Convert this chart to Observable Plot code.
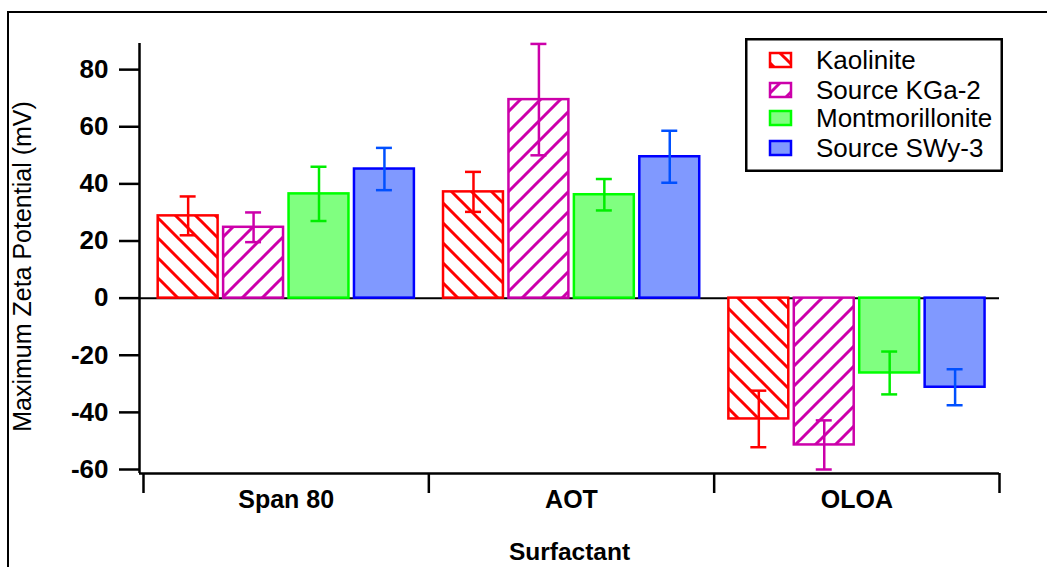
<!DOCTYPE html>
<html>
<head>
<meta charset="utf-8">
<script src="https://cdn.jsdelivr.net/npm/d3@7"></script>
<script src="https://cdn.jsdelivr.net/npm/@observablehq/plot@0.6"></script>
<style>
  body { margin: 0; background: #fff; }
  #chart { position: relative; width: 1047px; height: 567px; overflow: hidden;
           font-family: "Liberation Sans", Arial, Helvetica, sans-serif; }
  #border { position: absolute; left: 7px; top: 11px; right: -5px; bottom: -5px;
            border-top: 2.5px solid #000; border-left: 2.5px solid #000; pointer-events: none; }
  #legend { position: absolute; left: 745px; top: 38px; }
</style>
</head>
<body>
<div id="chart">
  <div id="border"></div>
</div>
<script>
// Surfactant groups and clay series
const surfactants = ["Span 80", "AOT", "OLOA"];
const seriesNames = ["Kaolinite", "Source KGa-2", "Montmorillonite", "Source SWy-3"];

// Maximum zeta potential (mV) and error, per surfactant
const kaolinite = [28.8, 37.2, -42.3];
const kaoliniteErr = [6.8, 7.0, 9.9];
const kga2 = [24.8, 69.5, -51.4];
const kga2Err = [5.2, 19.5, 8.6];
const montmorillonite = [36.5, 36.2, -26.2];
const montmorilloniteErr = [9.5, 5.5, 7.5];
const swy3 = [45.2, 49.5, -31.2];
const swy3Err = [7.4, 9.1, 6.3];

const yTicks = [-60, -40, -20, 0, 20, 40, 60, 80];

const values = [kaolinite, kga2, montmorillonite, swy3];
const errors = [kaoliniteErr, kga2Err, montmorilloniteErr, swy3Err];

// Fill / outline / error-bar colours for each series
const styles = [
  {fill: "url(#hatch-back)", stroke: "#ff0000", err: "#ff0000"},
  {fill: "url(#hatch-fwd)", stroke: "#cc00aa", err: "#cc00aa"},
  {fill: "#80ff80", stroke: "#00ff00", err: "#00ee00"},
  {fill: "#8099ff", stroke: "#0000ff", err: "#0050ff"}
];

// One row per bar
const rows = seriesNames.flatMap((name, s) =>
  surfactants.map((surf, g) => ({surfactant: surf, series: name, s, g, value: values[s][g], err: errors[s][g]}))
);

// Bar layout inside each surfactant group (group spans one unit on x)
const pad = 0.0515, barW = 0.21, gap = 0.0193, capHalf = 0.028;
const left = d => d.g + pad + d.s * (barW + gap);
const center = d => left(d) + barW / 2;

const xMin = -0.014, yMin = -61.4, yMax = 89.15;

const marks = [Plot.ruleY([0], {stroke: "#000", strokeWidth: 2})];

seriesNames.forEach((name, s) => {
  const data = rows.filter(d => d.s === s);
  marks.push(Plot.rectY(data, {
    x1: left, x2: d => left(d) + barW, y1: 0, y2: "value",
    fill: styles[s].fill, stroke: styles[s].stroke, strokeWidth: 2.5
  }));
});

seriesNames.forEach((name, s) => {
  const data = rows.filter(d => d.s === s);
  const c = styles[s].err;
  marks.push(
    Plot.ruleX(data, {x: center, y1: d => d.value - d.err, y2: d => d.value + d.err, stroke: c, strokeWidth: 2.5}),
    Plot.ruleY(data, {y: d => d.value + d.err, x1: d => center(d) - capHalf, x2: d => center(d) + capHalf, stroke: c, strokeWidth: 2.5}),
    Plot.ruleY(data, {y: d => d.value - d.err, x1: d => center(d) - capHalf, x2: d => center(d) + capHalf, stroke: c, strokeWidth: 2.5})
  );
});

marks.push(
  Plot.ruleX([xMin], {stroke: "#000", strokeWidth: 2.5}),
  Plot.ruleY([yMin], {stroke: "#000", strokeWidth: 2.5}),
  Plot.axisY({ticks: yTicks, tickSize: 20, tickPadding: 11, tickFormat: d => String(d),
              fontSize: 26, fontWeight: "bold", strokeWidth: 2.5, label: null}),
  Plot.axisX({ticks: [0, 1, 2, 3], tickSize: 20, tickFormat: () => "", strokeWidth: 2.5, label: null}),
  Plot.axisX({ticks: [0.5, 1.5, 2.5], tickSize: 0, tickPadding: 17,
              tickFormat: t => surfactants[Math.floor(t)], fontSize: 25, fontWeight: "bold", label: null}),
  Plot.text(["Maximum Zeta Potential (mV)"], {frameAnchor: "left", textAnchor: "middle", rotate: -90,
              dx: -117, dy: 8, fontSize: 25}),
  Plot.text(["Surfactant"], {frameAnchor: "bottom", dy: 86, fontSize: 24.5, fontWeight: "bold"})
);

const chart = Plot.plot({
  width: 1047, height: 567,
  marginLeft: 139, marginRight: 48, marginTop: 43, marginBottom: 94,
  style: {fontFamily: "'Liberation Sans', Arial, Helvetica, sans-serif", color: "#000", background: "transparent", overflow: "visible"},
  x: {domain: [xMin, 3], label: null},
  y: {domain: [yMin, yMax], label: null},
  marks
});

// Hatch patterns for the kaolinite bars
const defs = d3.select(chart).insert("defs", ":first-child");
function hatch(id, color, path) {
  const p = defs.append("pattern").attr("id", id).attr("patternUnits", "userSpaceOnUse")
    .attr("width", 20).attr("height", 20);
  p.append("rect").attr("width", 20).attr("height", 20).attr("fill", "#fff");
  p.append("path").attr("d", path).attr("stroke", color).attr("stroke-width", 3).attr("fill", "none");
}
hatch("hatch-back", "#ff0000", "M-5,-5L25,25M-5,15L5,25M15,-5L25,5");
hatch("hatch-fwd", "#cc00aa", "M-5,25L25,-5M-5,5L5,-5M15,25L25,15");

const host = document.getElementById("chart");
chart.style.position = "absolute";
chart.style.left = "0";
chart.style.top = "0";
host.insertBefore(chart, host.firstChild);

// Legend box
const lw = 258, lh = 134;
const legend = d3.select(host).append("svg").attr("id", "legend")
  .attr("width", lw).attr("height", lh);
legend.append("rect").attr("x", 1.25).attr("y", 1.25).attr("width", lw - 2.5).attr("height", lh - 2.5)
  .attr("fill", "#fff").attr("stroke", "#000").attr("stroke-width", 2.5);
const rowY = [22, 52, 80, 110];
seriesNames.forEach((name, s) => {
  legend.append("rect").attr("x", 25).attr("y", rowY[s] - 7).attr("width", 21).attr("height", 14)
    .attr("fill", styles[s].fill).attr("stroke", styles[s].stroke).attr("stroke-width", 2.5);
  legend.append("text").attr("x", 71).attr("y", rowY[s]).attr("dy", "0.36em")
    .attr("font-size", 26).attr("font-family", "'Liberation Sans', Arial, sans-serif")
    .attr("fill", "#000").text(name);
});
</script>
</body>
</html>
